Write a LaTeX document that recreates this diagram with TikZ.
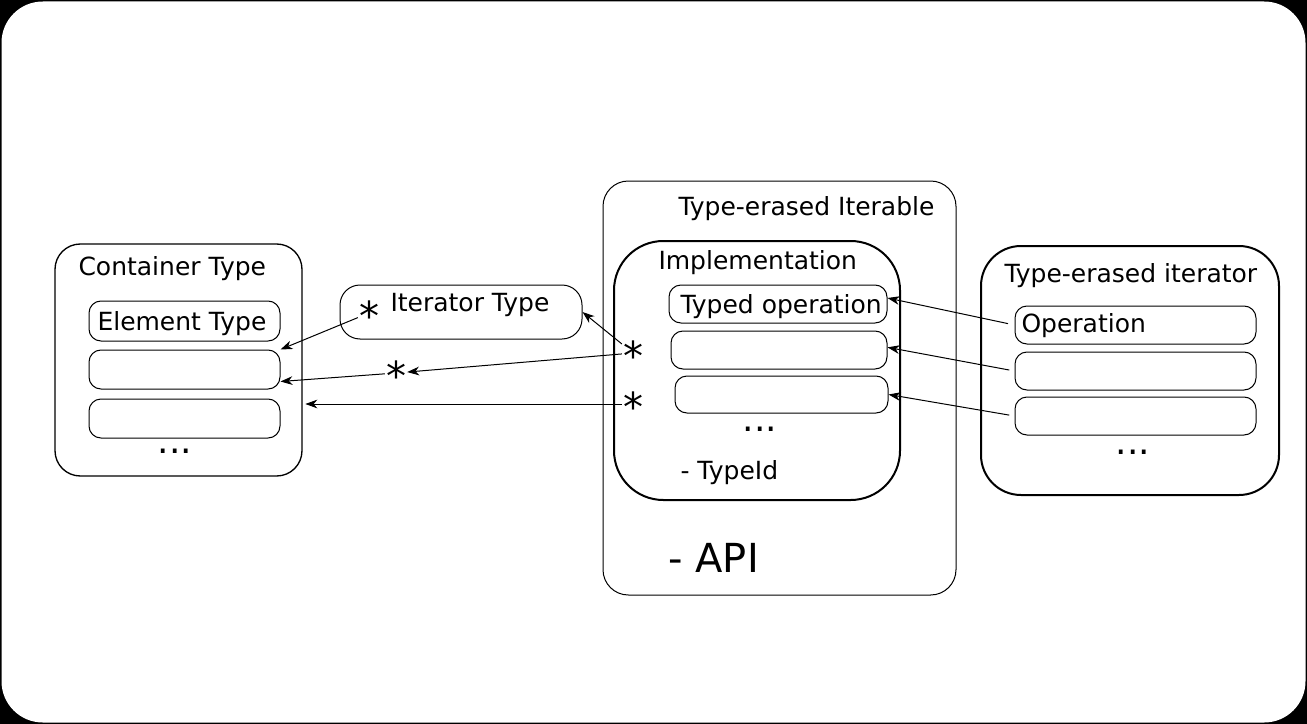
\documentclass[tikz,border=0pt]{standalone}
\usepackage{fontspec}
\setmainfont{DejaVu Sans}
\usetikzlibrary{arrows.meta}

\tikzset{every picture/.style={line width=0.75pt}}
\tikzset{
  box/.style={draw, rounded corners=9pt, inner sep=0pt},
  lbl/.style={anchor=base west, inner sep=0pt, font=\fontsize{18.75}{22}\selectfont},
  ellip/.style={anchor=base, inner sep=0pt, font=\fontsize{27}{30}\selectfont},
  ptr/.style={inner sep=0.5pt, font=\fontsize{30}{30}\selectfont, text height=26.5pt, text depth=-13.3pt},
  conn/.style={-{Stealth[length=9pt,width=6.5pt,inset=2.8pt]}, line width=0.75pt},
}

\begin{document}
\begin{tikzpicture}[x=0.75pt,y=0.75pt,yscale=-1,xscale=1]
%set diagram left start at 0, and has height of 724
\fill[black] (0,0) rectangle (1307,724);
\fill[white, rounded corners=31pt] (1.5,1.5) rectangle (1305.5,722.5);

% Container Type
\node[box, rounded corners=19pt, line width=1pt, minimum width=185.25pt, minimum height=174pt] (cont) at (178.5,360) {};
\node[lbl] (conttitle) at (78,275) {Container Type};
\node[box, minimum width=143.25pt, minimum height=30pt] (c1) at (184.5,321) {};
\node[lbl] (c1text) at (97,330) {Element Type};
\node[box, minimum width=143.25pt, minimum height=29.25pt] (c2) at (184.5,369.5) {};
\node[box, minimum width=143.25pt, minimum height=29.25pt] (c3) at (184.5,418.5) {};
\node[ellip] (cdots) at (175,453) {...};

% Iterator Type
\node[box, rounded corners=15pt, minimum width=181.5pt, minimum height=40.5pt] (itype) at (461,312) {};
\node[lbl] (itypetext) at (390,311) {Iterator Type};
\node[ptr] (s1) at (369,313) {*};
\node[ptr] (s2) at (396,373) {*};

% Type-erased Iterable
\node[box, rounded corners=19pt, minimum width=264.75pt, minimum height=310.5pt] (able) at (779.5,388) {};
\node[lbl] (abletitle) at (678,215) {Type-erased Iterable};
\node[box, rounded corners=37pt, line width=1.5pt, minimum width=214.5pt, minimum height=194.25pt] (impl) at (757,370.5) {};
\node[lbl] (impltitle) at (658,269) {Implementation};
\node[box, minimum width=163.5pt, minimum height=28.5pt] (t1) at (778,304) {};
\node[lbl] (t1text) at (680,313) {Typed operation};
\node[box, minimum width=162pt, minimum height=28.5pt] (t2) at (779,350) {};
\node[box, minimum width=159.75pt, minimum height=27.75pt] (t3) at (781.5,394.5) {};
\node[ellip] (tdots) at (760,431) {...};
\node[lbl] (typeid) at (680,479) {- TypeId};
\node[lbl, font=\fontsize{30}{36}\selectfont] (api) at (668,572) {- API};
\node[ptr] (s3) at (633,353) {*};
\node[ptr] (s4) at (633,404) {*};

% Type-erased iterator
\node[box, rounded corners=30pt, line width=1.5pt, minimum width=223.5pt, minimum height=186.75pt] (erit) at (1130,370.5) {};
\node[lbl] (erittitle) at (1004,282) {Type-erased iterator};
\node[box, minimum width=180.75pt, minimum height=28.5pt] (o1) at (1135.5,325) {};
\node[lbl] (o1text) at (1021,332) {Operation};
\node[box, minimum width=180.75pt, minimum height=28.5pt] (o2) at (1135.5,371) {};
\node[box, minimum width=180.75pt, minimum height=28.5pt] (o3) at (1135.5,416) {};
\node[ellip] (odots) at (1133,454) {...};

% Connection
\draw[conn] (s1) -- (c2.north east);
\draw[conn] (s2) -- ([yshift=9pt]c2.east);
\draw[conn] (s3) -- (s2);
\draw[conn] (s3) -- (itype.east);
\draw[conn, shorten >=2pt] (s4) -- (s4 -| cont.east);
\draw[conn, shorten <=5pt] (o1.west) -- ([yshift=-4.5pt]t1.east);
\draw[conn, shorten <=4pt] (o2.west) -- ([yshift=-2pt]t2.east);
\draw[conn, shorten <=4pt] (o3.west) -- (t3.east);

\end{tikzpicture}
\end{document}
